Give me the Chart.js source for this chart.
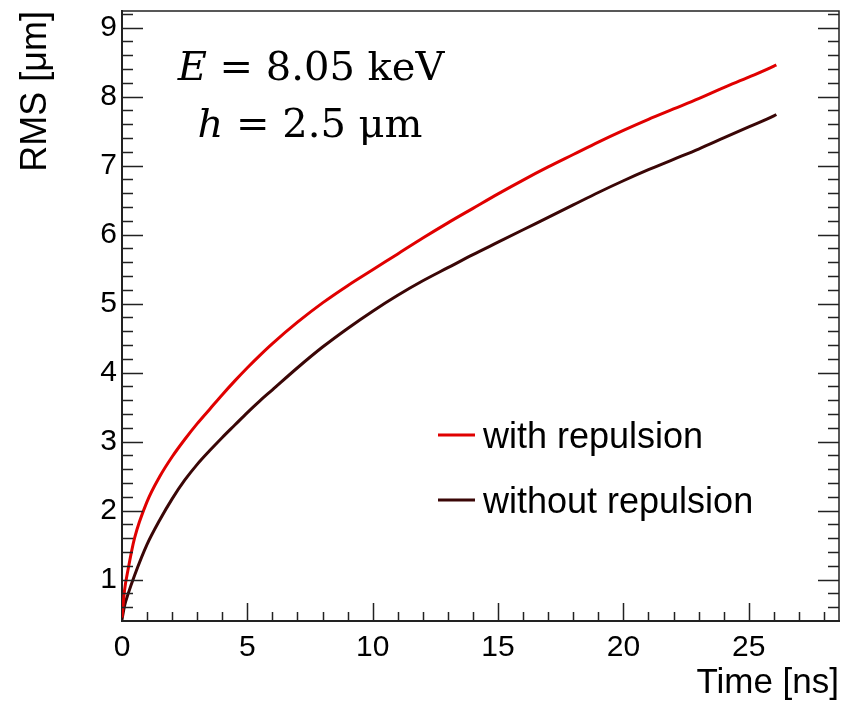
<!DOCTYPE html>
<html>
<head>
<meta charset="utf-8">
<script src="https://cdn.jsdelivr.net/npm/chart.js@4.4.0/dist/chart.umd.min.js"></script>
<style>
  html, body { margin: 0; padding: 0; background: #fff; }
</style>
</head>
<body>
<canvas id="myChart" width="843" height="704"></canvas>
<script>
// Time axis (ns) and the two RMS curves (um)
const timeNs = [0, 0.1, 0.25, 0.5, 1, 1.5, 2, 2.5, 3, 3.5, 4, 4.5, 5, 5.5, 6, 7, 8, 9, 10,
    11, 12, 13, 14, 15, 16, 17, 18, 19, 20, 21, 22, 23, 24, 25, 26, 26.1];
const rmsWith = [0.45, 0.84, 1.16, 1.60, 2.13, 2.49, 2.78, 3.03, 3.26, 3.47, 3.68, 3.88, 4.07, 4.25, 4.42,
    4.73, 5.01, 5.26, 5.49, 5.72, 5.95, 6.17, 6.38, 6.59, 6.79, 6.98, 7.16, 7.34, 7.51, 7.67,
    7.82, 7.97, 8.13, 8.28, 8.44, 8.46];
const rmsWithout = [0.42, 0.62, 0.80, 1.06, 1.51, 1.86, 2.17, 2.44, 2.67, 2.87, 3.06, 3.24, 3.42, 3.59, 3.75,
    4.07, 4.37, 4.64, 4.89, 5.12, 5.33, 5.52, 5.71, 5.89, 6.07, 6.25, 6.43, 6.61, 6.78, 6.94,
    7.09, 7.24, 7.40, 7.56, 7.72, 7.74];

const seriesLabels = ['with repulsion', 'without repulsion'];
const seriesColors = ['#e00000', '#3a0606'];

const xTicks = [0, 5, 10, 15, 20, 25];
const yTicks = [1, 2, 3, 4, 5, 6, 7, 8, 9];

const sansFont = 'Liberation Sans, Arial, sans-serif';

function toPoints(values) {
    return timeNs.map((t, i) => ({ x: t, y: values[i] }));
}

// ROOT style frame: inward major / minor ticks, text box and legend
const rootFrame = {
    id: 'rootFrame',
    afterDraw(chart) {
        const ctx = chart.ctx;
        const area = chart.chartArea;
        const xs = chart.scales.x;
        const ys = chart.scales.y;

        ctx.save();
        ctx.strokeStyle = '#222';
        ctx.lineWidth = 1.5;
        ctx.beginPath();
        ctx.moveTo(area.left, area.top);
        ctx.lineTo(area.right, area.top);
        ctx.lineTo(area.right, area.bottom);
        ctx.stroke();

        // x ticks, one per ns, long every 5
        ctx.lineWidth = 1.5;
        ctx.beginPath();
        for (let v = 1; v <= 28; v++) {
            const px = Math.round(xs.getPixelForValue(v)) + 0.5;
            const len = v % 5 === 0 ? 18 : 9;
            ctx.moveTo(px, area.bottom);
            ctx.lineTo(px, area.bottom - len);
        }
        // y ticks every 0.2, long every 1, both sides
        for (let k = 3; k <= 46; k++) {
            const v = k / 5;
            const py = Math.round(ys.getPixelForValue(v)) + 0.5;
            const len = k % 5 === 0 ? 21 : 11;
            ctx.moveTo(area.left, py);
            ctx.lineTo(area.left + len, py);
            ctx.moveTo(area.right, py);
            ctx.lineTo(area.right - len, py);
        }
        ctx.stroke();

        // parameter text
        ctx.fillStyle = '#000';
        ctx.textBaseline = 'alphabetic';
        ctx.textAlign = 'left';
        const lines = [
            { it: 'E', rest: ' = 8.05 keV', cx: 311, y: 80 },
            { it: 'h', rest: ' = 2.5 μm', cx: 310, y: 137 }
        ];
        lines.forEach(l => {
            ctx.font = 'italic 40px "DejaVu Serif"';
            const w1 = ctx.measureText(l.it).width;
            ctx.font = '40px "DejaVu Serif"';
            const w2 = ctx.measureText(l.rest).width;
            const x0 = l.cx - (w1 + w2) / 2;
            ctx.font = 'italic 40px "DejaVu Serif"';
            ctx.fillText(l.it, x0, l.y);
            ctx.font = '40px "DejaVu Serif"';
            ctx.fillText(l.rest, x0 + w1, l.y);
        });

        // legend
        const legendY = [435, 500];
        chart.data.datasets.forEach((ds, i) => {
            ctx.strokeStyle = ds.borderColor;
            ctx.lineWidth = 3;
            ctx.beginPath();
            ctx.moveTo(438, legendY[i]);
            ctx.lineTo(475, legendY[i]);
            ctx.stroke();
            ctx.fillStyle = '#000';
            ctx.font = '36px ' + sansFont;
            ctx.textBaseline = 'middle';
            ctx.fillText(ds.label, 483, legendY[i] + 3);
        });
        ctx.restore();
    }
};

const config = {
    type: 'line',
    data: {
        datasets: [
            {
                label: seriesLabels[0],
                data: toPoints(rmsWith),
                borderColor: seriesColors[0],
                borderWidth: 3,
                pointRadius: 0,
                cubicInterpolationMode: 'monotone',
                fill: false
            },
            {
                label: seriesLabels[1],
                data: toPoints(rmsWithout),
                borderColor: seriesColors[1],
                borderWidth: 3,
                pointRadius: 0,
                cubicInterpolationMode: 'monotone',
                fill: false
            }
        ]
    },
    options: {
        responsive: false,
        animation: false,
        devicePixelRatio: 1,
        layout: {
            padding: { top: 11, right: 4, left: 0, bottom: 0 }
        },
        plugins: {
            legend: { display: false },
            tooltip: { enabled: false }
        },
        scales: {
            x: {
                type: 'linear',
                min: 0,
                max: 28.6,
                afterBuildTicks: scale => {
                    scale.ticks = xTicks.map(v => ({ value: v }));
                },
                afterFit: scale => {
                    scale.height = 83;
                    scale.paddingLeft = 0;
                    scale.paddingRight = 0;
                },
                grid: { display: false, drawTicks: false },
                border: { display: true, color: '#222', width: 2 },
                ticks: {
                    padding: 9,
                    color: '#000',
                    maxRotation: 0,
                    font: { size: 30, family: sansFont }
                },
                title: {
                    display: true,
                    text: 'Time [ns]',
                    align: 'end',
                    color: '#000',
                    padding: 0,
                    font: { size: 35, family: sansFont }
                }
            },
            y: {
                type: 'linear',
                min: 0.4,
                max: 9.24,
                afterBuildTicks: scale => {
                    scale.ticks = yTicks.map(v => ({ value: v }));
                },
                afterFit: scale => {
                    scale.width = 122;
                    scale.paddingTop = 0;
                    scale.paddingBottom = 0;
                },
                grid: { display: false, drawTicks: false },
                border: { display: true, color: '#222', width: 2 },
                ticks: {
                    padding: 5,
                    color: '#000',
                    font: { size: 30, family: sansFont }
                },
                title: {
                    display: true,
                    text: 'RMS [μm]',
                    align: 'end',
                    color: '#000',
                    padding: 14,
                    font: { size: 36, family: sansFont }
                }
            }
        }
    },
    plugins: [rootFrame]
};

window.myChart = new Chart(document.getElementById('myChart'), config);
</script>
</body>
</html>
